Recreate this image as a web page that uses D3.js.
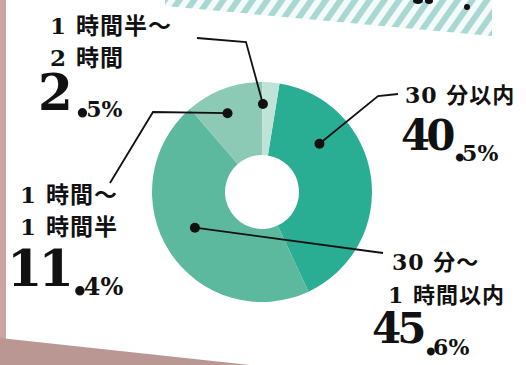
<!DOCTYPE html>
<html><head><meta charset="utf-8">
<script src="https://cdn.jsdelivr.net/npm/d3@7"></script>
<style>
html,body{margin:0;padding:0;background:#fff;}
svg{display:block;}
</style></head>
<body>
<svg id="chart" width="526" height="365"></svg>
<script>
// ---- data ----
const categories = ["30 分以内", "30 分～1 時間以内", "1 時間～1 時間半", "1 時間半～2 時間"];
const values = [40.5, 45.6, 11.4, 2.5];
const labelLines = [["30 分以内"], ["30 分～", "1 時間以内"], ["1 時間～", "1 時間半"], ["1 時間半～", "2 時間"]];
const colors = ["#2aae93", "#5db99e", "#8ccab5", "#c0e3d7"];

// ---- layout ----
const W = 526, H = 365;
const cx = 262, cy = 192, rOuter = 110, rInner = 37;
const startAngle = 0.16;

const svg = d3.select("#chart");

// background decorations (paper photo)
const defs = svg.append("defs");
const pat = defs.append("pattern").attr("id", "stripes").attr("patternUnits", "userSpaceOnUse")
  .attr("width", 12).attr("height", 12).attr("patternTransform", "rotate(35)");
pat.append("rect").attr("width", 12).attr("height", 12).attr("fill", "#f4faf9");
pat.append("rect").attr("width", 6).attr("height", 12).attr("fill", "#a8d8d1");
svg.append("path").attr("d", "M165,0 L492,0 L492,36 L165,6 Z").attr("fill", "url(#stripes)");
svg.append("ellipse").attr("cx", 418).attr("cy", 1).attr("rx", 5).attr("ry", 3).attr("fill", "#111");
svg.append("ellipse").attr("cx", 429).attr("cy", 1).attr("rx", 4).attr("ry", 3).attr("fill", "#111");
svg.append("circle").attr("cx", 467).attr("cy", 7).attr("r", 3).attr("fill", "#111");
svg.append("rect").attr("x", 0).attr("y", 0).attr("width", 6).attr("height", H).attr("fill", "#c9a4a2");
svg.append("path").attr("d", "M0,338 L250,365 L0,365 Z").attr("fill", "#bb9793");

// ---- donut ----
const pie = d3.pie().sort(null).startAngle(startAngle).endAngle(startAngle + 2 * Math.PI)(values);
const arc = d3.arc().innerRadius(rInner).outerRadius(rOuter);
const g = svg.append("g").attr("transform", `translate(${cx},${cy})`);
g.selectAll("path.slice").data(pie).join("path").attr("class", "slice")
  .attr("d", arc).attr("fill", (d, i) => colors[i]);

// ---- annotations ----
const dotFrac = [0.28, 0.53, 0.42, 0.05];
const dotR = [75, 76, 86, 88];
const dots = pie.map((d, i) => {
  const a = d.startAngle + dotFrac[i] * (d.endAngle - d.startAngle);
  return [cx + dotR[i] * Math.sin(a), cy - dotR[i] * Math.cos(a)];
});
const leaders = [
  [[378, 96], [398, 94]],
  [[383, 253]],
  [[153, 112], [110, 183]],
  [[246, 42], [197, 38]]
];
const line = d3.line();
leaders.forEach((pts, i) => {
  svg.append("path").attr("d", line([dots[i], ...pts]))
    .attr("fill", "none").attr("stroke", "#111").attr("stroke-width", 1.8);
});
svg.selectAll("circle.dot").data(dots).join("circle").attr("class", "dot")
  .attr("cx", d => d[0]).attr("cy", d => d[1]).attr("r", 5).attr("fill", "#111");

// label blocks
const labelPos = [
  {x: [405], y: [103], fs: 22, vx: 401, vy: 150, big: 42, small: 22, sdy: 11},
  {x: [392, 388], y: [270, 303], fs: 22, vx: 372, vy: 343, big: 42, small: 22, sdy: 12},
  {x: [20, 20], y: [203, 235], fs: 23, vx: 7, vy: 286, big: 51, small: 24, sdy: 9},
  {x: [50, 50], y: [34, 66], fs: 23, vx: 38, vy: 110, big: 50, small: 22, sdy: 7}
];
const FONT = "'DejaVu Serif','Noto Sans CJK JP',serif";

values.forEach((v, i) => {
  const p = labelPos[i];
  labelLines[i].forEach((t, j) => {
    svg.append("text").attr("x", p.x[j]).attr("y", p.y[j])
      .attr("font-family", FONT).attr("font-weight", "bold")
      .attr("font-size", p.fs).attr("letter-spacing", 1).attr("fill", "#111").text(t);
  });
  const [intPart, decPart] = v.toFixed(1).split(".");
  const t = svg.append("text").attr("x", p.vx).attr("y", p.vy)
    .attr("font-family", FONT).attr("font-weight", "bold").attr("fill", "#111");
  t.append("tspan").attr("font-size", p.big).attr("letter-spacing", intPart.length > 1 ? -4 : 0).text(intPart);
  t.append("tspan").attr("font-size", p.big).attr("dy", p.sdy).attr("dx", 1).attr("letter-spacing", -5).text(".");
  t.append("tspan").attr("font-size", p.small).attr("dx", 0).text(decPart + "%");
});
</script>
</body></html>
